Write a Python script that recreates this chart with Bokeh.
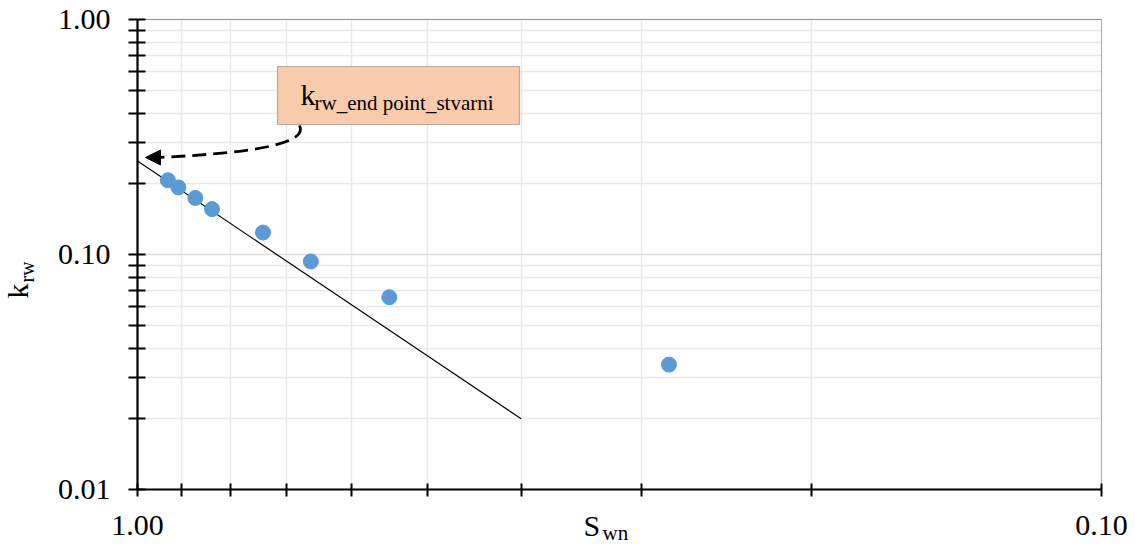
import math
from bokeh.plotting import figure
from bokeh.models import (Range1d, FixedTicker, PrintfTickFormatter, Label,
                          BoxAnnotation, Arrow, NormalHead)
from bokeh.embed import file_html
from bokeh.resources import INLINE

# ---- data ----
sw = [0.930, 0.907, 0.871, 0.837, 0.741, 0.661, 0.548, 0.281]
krw = [0.207, 0.193, 0.174, 0.156, 0.124, 0.0934, 0.0658, 0.034]
fit_sw = [1.0, 0.40]
fit_krw = [0.25, 0.02]

x_major = [1.0, 0.1]
x_minor = [0.9, 0.8, 0.7, 0.6, 0.5, 0.4, 0.3, 0.2]
y_major = [0.01, 0.1, 1.0]
y_minor = [0.02, 0.03, 0.04, 0.05, 0.06, 0.07, 0.08, 0.09,
           0.2, 0.3, 0.4, 0.5, 0.6, 0.7, 0.8, 0.9]
x_lim = (0.1, 1.0)
y_lim = (0.01, 1.0)

FONT = "Liberation Serif"
W, H = 1135, 547

# pixel helpers: plot area spans x 137..1101 (1.0 -> 0.1), y 19..489 (1.0 -> 0.01)
def px_x(px):
    return 10 ** (-(px - 137) / 964.0)

def px_y(py):
    return 10 ** (-(py - 19) / 235.0)

# frame covers the whole canvas so that titles outside the plot area are not clipped
p = figure(width=W, height=H,
           x_axis_type="log", y_axis_type="log",
           x_range=Range1d(px_x(0), px_x(W)), y_range=Range1d(px_y(H), px_y(0)),
           output_backend="svg", toolbar_location=None,
           min_border=0, min_border_left=0, min_border_right=0,
           min_border_top=0, min_border_bottom=0,
           background_fill_color="white", border_fill_color="white")
p.outline_line_color = None

xax = p.xaxis[0]
yax = p.yaxis[0]
xax.fixed_location = y_lim[0]
yax.fixed_location = x_lim[1]
xax.bounds = x_lim
yax.bounds = y_lim

xax.ticker = FixedTicker(ticks=x_major, minor_ticks=x_minor)
yax.ticker = FixedTicker(ticks=y_major, minor_ticks=y_minor)
xax.formatter = PrintfTickFormatter(format="%.2f")
yax.formatter = PrintfTickFormatter(format="%.2f")

for ax in (xax, yax):
    ax.axis_line_color = "black"
    ax.axis_line_width = 2.2
    ax.major_tick_line_color = "black"
    ax.minor_tick_line_color = "black"
    ax.major_tick_line_width = 2
    ax.minor_tick_line_width = 2
    ax.major_label_text_font = FONT
    ax.major_label_text_font_size = "30px"
    ax.major_label_text_color = "black"

yax.major_tick_in = 8
yax.major_tick_out = 9
yax.minor_tick_in = 8
yax.minor_tick_out = 9
yax.major_label_standoff = 18

xax.major_tick_in = 6
xax.major_tick_out = 7
xax.minor_tick_in = 6
xax.minor_tick_out = 7
xax.major_label_standoff = 19

# grid limited to the plot area
p.xgrid.bounds = x_lim
p.xgrid.cross_bounds = y_lim
p.ygrid.bounds = y_lim
p.ygrid.cross_bounds = x_lim
p.xgrid.grid_line_color = None
p.xgrid.minor_grid_line_color = "#e9e9e9"
p.xgrid.minor_grid_line_width = 1.5
p.ygrid.grid_line_color = "#d9d9d9"
p.ygrid.grid_line_width = 1.5
p.ygrid.minor_grid_line_color = "#e9e9e9"
p.ygrid.minor_grid_line_width = 1.5

# plot-area border (top/right thin lines)
p.add_layout(BoxAnnotation(left=x_lim[1], right=x_lim[0], top=y_lim[1], bottom=y_lim[0],
                           fill_alpha=0, line_color="black", line_width=1.2,
                           level="underlay"))

# data
p.line(fit_sw, fit_krw, line_color="black", line_width=1.2)
p.scatter(sw, krw, size=15, fill_color="#5b9bd5", line_color="#5b9bd5")

# callout box
p.add_layout(BoxAnnotation(left=px_x(277), right=px_x(519), top=px_y(66), bottom=px_y(124),
                           fill_color="#f8cbad", fill_alpha=1.0,
                           line_color="#222222", line_width=1.2))
p.add_layout(Label(x=px_x(300), y=px_y(93.5), text="k", text_font=FONT,
                   text_font_size="30px", text_color="black",
                   text_align="left", text_baseline="alphabetic"))
p.add_layout(Label(x=px_x(314), y=px_y(102.5), text="rw_end point_stvarni", text_font=FONT,
                   text_font_size="21px", text_color="black",
                   text_align="left", text_baseline="alphabetic"))

# dashed curved arrow
p.bezier(x0=[px_x(299)], y0=[px_y(125)], x1=[px_x(158)], y1=[px_y(157)],
         cx0=[px_x(307)], cy0=[px_y(142)], cx1=[px_x(262)], cy1=[px_y(152)],
         line_color="black", line_width=2.8, line_dash="14 7")
p.add_layout(Arrow(end=NormalHead(size=15, fill_color="black", line_color="black"),
                   x_start=px_x(162), y_start=px_y(157), x_end=px_x(145), y_end=px_y(157),
                   line_alpha=0))

# axis titles
p.add_layout(Label(x=px_x(583), y=px_y(525), text="S", text_font=FONT,
                   text_font_size="30px", text_color="black",
                   text_align="left", text_baseline="alphabetic"))
p.add_layout(Label(x=px_x(602), y=px_y(532), text="wn", text_font=FONT,
                   text_font_size="21px", text_color="black",
                   text_align="left", text_baseline="alphabetic"))
p.add_layout(Label(x=px_x(17), y=px_y(298), text="k", text_font=FONT,
                   text_font_size="30px", text_color="black", angle=math.pi / 2,
                   text_align="left", text_baseline="alphabetic"))
p.add_layout(Label(x=px_x(26), y=px_y(282), text="rw", text_font=FONT,
                   text_font_size="20px", text_color="black", angle=math.pi / 2,
                   text_align="left", text_baseline="alphabetic"))

open("out.html", "w").write(file_html(p, INLINE))
